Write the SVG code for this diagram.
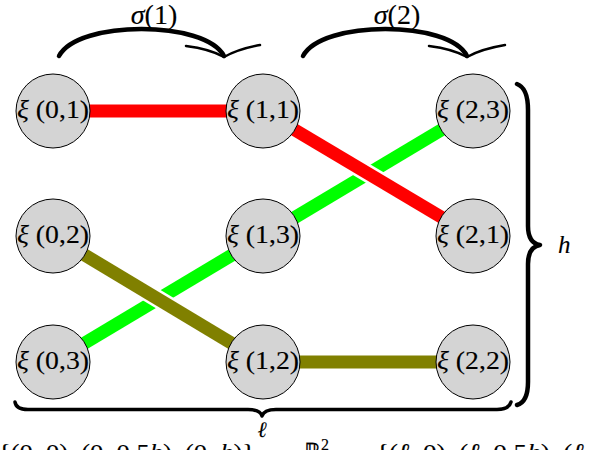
<svg xmlns="http://www.w3.org/2000/svg" width="596" height="450" viewBox="0 0 596 450">
<style>
  .node circle { fill: #d4d4d4; stroke: #000; stroke-width: 1; }
  text { font-family: "Liberation Serif", "Times New Roman", serif; fill: #000; stroke: #000; stroke-width: 0.12; }
  .lbl { font-size: 25px; }
  .it { font-style: italic; }
  .edge { fill: none; stroke-linecap: butt; }
  .halo { stroke: #fff; stroke-width: 18; fill: none; }
  .brace { fill: none; stroke: #000; stroke-linecap: round; stroke-linejoin: round; }
</style>
<rect width="596" height="450" fill="#fff"/>

<g id="connectors">
  <line class="edge" x1="53" y1="362" x2="473" y2="111" stroke="#00ff00" stroke-width="13"/>
  <line class="halo" x1="263" y1="111" x2="473" y2="236"/>
  <line class="edge" x1="263" y1="111" x2="473" y2="236" stroke="#ff0000" stroke-width="13"/>
  <line class="edge" x1="53" y1="111" x2="263" y2="111" stroke="#ff0000" stroke-width="13"/>
  <line class="halo" x1="53" y1="236" x2="263" y2="362"/>
  <line class="edge" x1="53" y1="236" x2="263" y2="362" stroke="#808000" stroke-width="13"/>
  <line class="edge" x1="263" y1="362" x2="473" y2="362" stroke="#808000" stroke-width="13"/>
</g>

<g id="n01" class="node"><circle cx="53" cy="111" r="37"/><text class="lbl" x="53" y="118" text-anchor="middle" textLength="72" lengthAdjust="spacingAndGlyphs"><tspan class="it">ξ</tspan> (0,1)</text></g>
<g id="n02" class="node"><circle cx="53" cy="236" r="37"/><text class="lbl" x="53" y="243" text-anchor="middle" textLength="72" lengthAdjust="spacingAndGlyphs"><tspan class="it">ξ</tspan> (0,2)</text></g>
<g id="n03" class="node"><circle cx="53" cy="362" r="37"/><text class="lbl" x="53" y="369" text-anchor="middle" textLength="72" lengthAdjust="spacingAndGlyphs"><tspan class="it">ξ</tspan> (0,3)</text></g>
<g id="n11" class="node"><circle cx="263" cy="111" r="37"/><text class="lbl" x="263" y="118" text-anchor="middle" textLength="72" lengthAdjust="spacingAndGlyphs"><tspan class="it">ξ</tspan> (1,1)</text></g>
<g id="n13" class="node"><circle cx="263" cy="236" r="37"/><text class="lbl" x="263" y="243" text-anchor="middle" textLength="72" lengthAdjust="spacingAndGlyphs"><tspan class="it">ξ</tspan> (1,3)</text></g>
<g id="n12" class="node"><circle cx="263" cy="362" r="37"/><text class="lbl" x="263" y="369" text-anchor="middle" textLength="72" lengthAdjust="spacingAndGlyphs"><tspan class="it">ξ</tspan> (1,2)</text></g>
<g id="n23" class="node"><circle cx="473" cy="111" r="37"/><text class="lbl" x="473" y="118" text-anchor="middle" textLength="72" lengthAdjust="spacingAndGlyphs"><tspan class="it">ξ</tspan> (2,3)</text></g>
<g id="n21" class="node"><circle cx="473" cy="236" r="37"/><text class="lbl" x="473" y="243" text-anchor="middle" textLength="72" lengthAdjust="spacingAndGlyphs"><tspan class="it">ξ</tspan> (2,1)</text></g>
<g id="n22" class="node"><circle cx="473" cy="362" r="37"/><text class="lbl" x="473" y="369" text-anchor="middle" textLength="72" lengthAdjust="spacingAndGlyphs"><tspan class="it">ξ</tspan> (2,2)</text></g>

<g id="sigma1">
  <path class="brace" d="M59,56 C78,20 205,20 224,56" stroke-width="4.5"/>
  <path class="brace" d="M186,46 Q210,49 224,57 Q238,49 260,45" stroke-width="2.5"/>
  <text x="154" y="24" text-anchor="middle" font-size="28"><tspan class="it">σ</tspan>(1)</text>
</g>
<g id="sigma2">
  <path class="brace" d="M303,56 C322,20 449,20 467,56" stroke-width="4.5"/>
  <path class="brace" d="M429,46 Q453,49 467,57 Q481,49 505,45" stroke-width="2.5"/>
  <text x="397" y="24" text-anchor="middle" font-size="28"><tspan class="it">σ</tspan>(2)</text>
</g>

<g id="brace-h">
  <path class="brace" d="M517,84 Q528,88 528,110 L528,226 Q528,243 540,245 Q528,247 528,264 L528,382 Q528,402 517,405" stroke-width="4.5"/>
  <text class="it" x="558" y="253" font-size="25">h</text>
</g>
<g id="brace-l">
  <path class="brace" d="M15,402 Q16,409.5 28,409.5 L248,409.5 Q260,409.5 262,416 Q264,409.5 276,409.5 L497,409.5 Q509,409.5 511,402" stroke-width="3.5"/>
  <text class="it" x="262" y="437" text-anchor="middle" font-size="22">ℓ</text>
</g>

<g id="caption">
  <text x="-2" y="460" font-size="24" textLength="257" lengthAdjust="spacingAndGlyphs">{(0, 0), (0, 0.5<tspan class="it">h</tspan>), (0, <tspan class="it">h</tspan>)}</text>
  <text x="304" y="460" font-size="24">ℝ<tspan dy="-10" font-size="16">2</tspan></text>
  <text x="376" y="460" font-size="24" textLength="257" lengthAdjust="spacingAndGlyphs">{(<tspan class="it">ℓ</tspan>, 0), (<tspan class="it">ℓ</tspan>, 0.5<tspan class="it">h</tspan>), (<tspan class="it">ℓ</tspan>, <tspan class="it">h</tspan>)}</text>
</g>
</svg>
